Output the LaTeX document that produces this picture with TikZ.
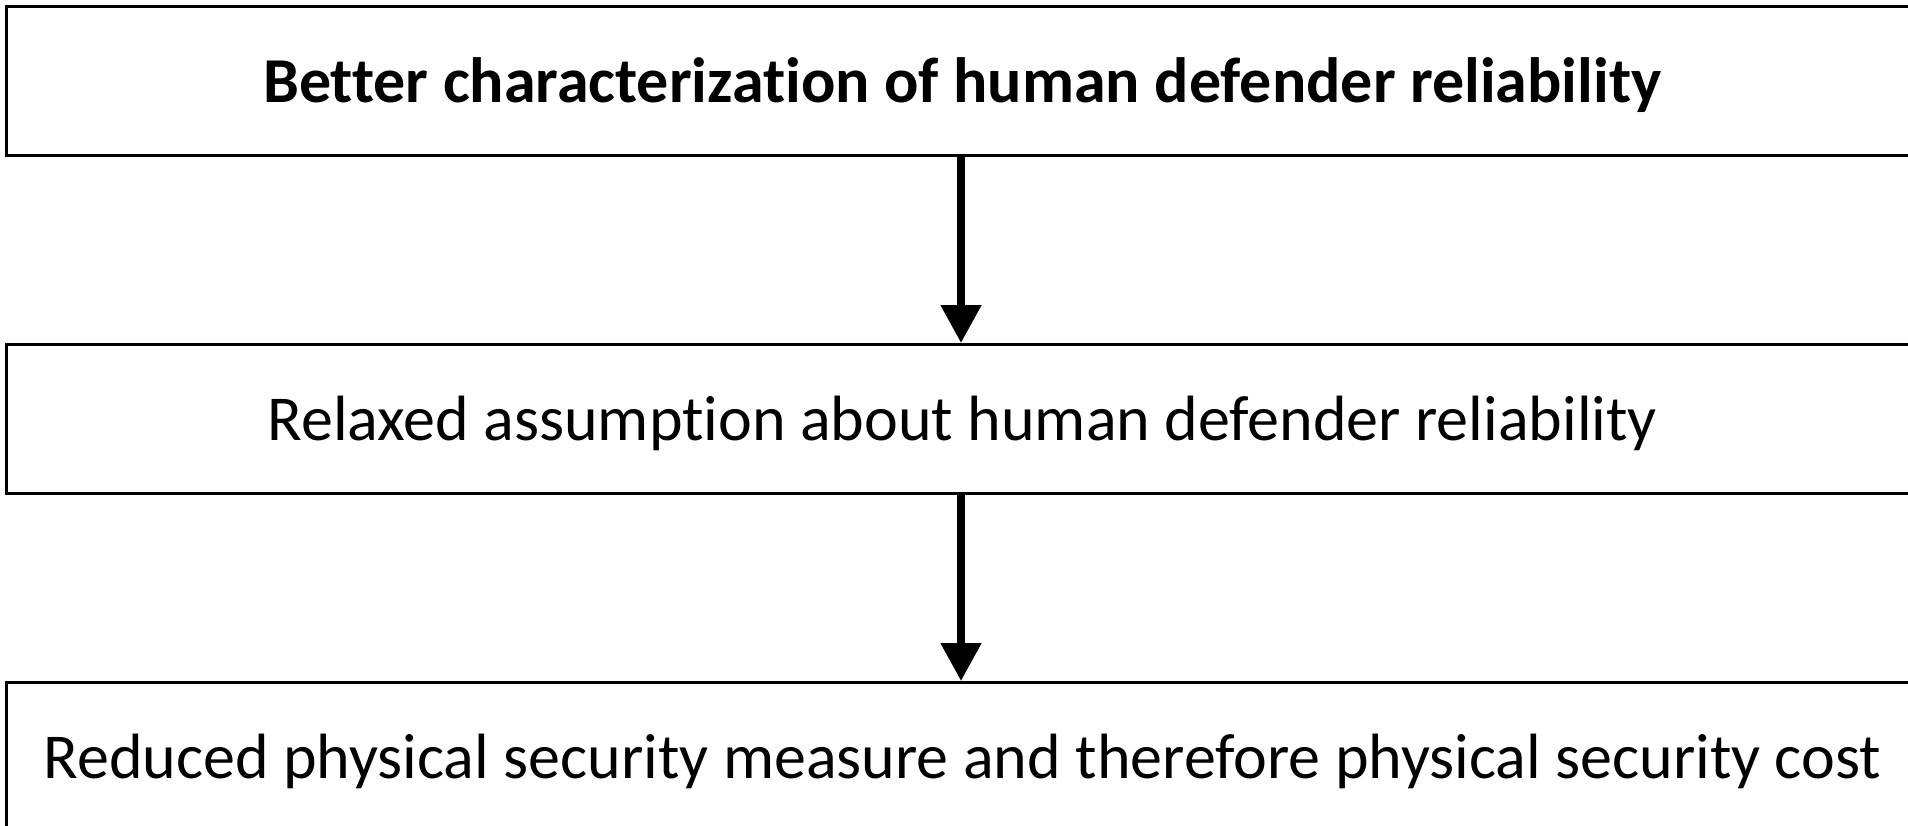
\documentclass[tikz,border=0pt]{standalone}
\usepackage{fontspec}
\setmainfont{Carlito}[Ligatures=NoCommon]
\usetikzlibrary{arrows.meta}
\begin{document}
\begin{tikzpicture}[x=1pt,y=-1pt,
  stagebox/.style={draw=black, line width=2.6pt, minimum width=1912pt, minimum height=149pt,
    inner sep=0pt, text height=44pt, text depth=0pt, font=\fontsize{64}{70}\selectfont},
  flow/.style={line width=8pt, -{Triangle[width=39pt,length=38pt]}}]
  \useasboundingbox (0,0) rectangle (1908,826);
  \node[stagebox, anchor=north west] (b1) at (5,5)
    {\textbf{Better characterization of human defender reliability}};
  \node[stagebox, anchor=north west] (b2) at (5,343)
    {Relaxed assumption about human defender reliability};
  \node[stagebox, anchor=north west] (b3) at (5,681)
    {Reduced physical security measure and therefore physical security cost};
  \draw[flow] (b1.south -| 961,0) -- (b2.north -| 961,0);
  \draw[flow] (b2.south -| 961,0) -- (b3.north -| 961,0);
\end{tikzpicture}
\end{document}
